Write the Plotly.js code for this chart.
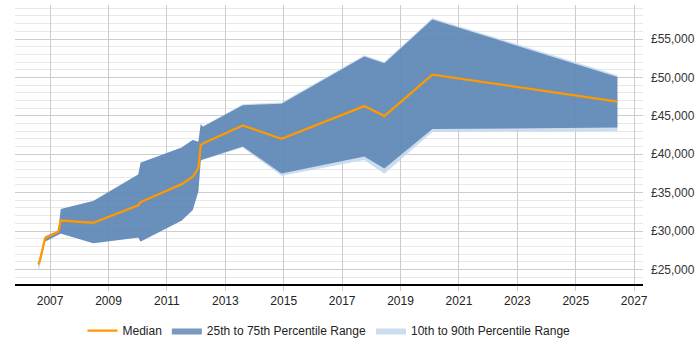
<!DOCTYPE html>
<html>
<head>
<meta charset="utf-8">
<script src="https://cdn.plot.ly/plotly-3.0.1.min.js"></script>
<style>
  html, body { margin: 0; padding: 0; background: #fff; }
  #chart { width: 700px; height: 350px; }
</style>
</head>
<body>
<div id="chart"></div>
<script>
// Salary percentiles over time (GBP)
const dates = ['2006-08-07','2006-08-25','2006-10-30','2007-04-13','2007-05-15','2008-06-25',
  '2010-01-08','2010-02-06','2011-07-05','2011-11-20','2012-01-30','2012-02-28','2012-03-25',
  '2013-08-07','2014-12-05','2017-10-05','2018-06-13','2020-02-03','2026-06-06'];

const median = [25700, 26100, 29050, 29900, 31370, 31080, 33360, 33770, 36100, 37060, 38200,
  41200, 41400, 43740, 42000, 46270, 44960, 50360, 46860];
const p75 = [25900, 26500, 29270, 30030, 32850, 33900, 37370, 38890, 40860, 41840, 41620,
  43900, 43570, 46390, 46560, 52730, 51840, 57540, 50070];
const p25 = [25450, 25800, 28630, 29470, 29680, 28420, 29140, 28630, 31370, 32720, 35170,
  39180, 39300, 40990, 37500, 39690, 38130, 43270, 43480];
const p90 = [26050, 26600, 29300, 30060, 32880, 33930, 37400, 38920, 40890, 41870, 41650,
  43930, 43600, 46520, 46720, 52900, 52000, 57750, 50280];
const p10 = [24900, 25300, 28600, 29440, 29650, 28390, 29110, 28600, 31340, 32690, 35140,
  39150, 39270, 40860, 37200, 39250, 37450, 42900, 43000];

const yTicks = [25000, 30000, 35000, 40000, 45000, 50000, 55000];

const traces = [
  { x: dates, y: p10, type: 'scatter', mode: 'lines', line: { width: 0 },
    showlegend: false, hoverinfo: 'skip' },
  { x: dates, y: p90, type: 'scatter', mode: 'lines', line: { width: 0 },
    fill: 'tonexty', fillcolor: 'rgba(190,212,235,0.8)',
    name: '10th to 90th Percentile Range', legendrank: 3 },
  { x: dates, y: p25, type: 'scatter', mode: 'lines', line: { width: 0 },
    showlegend: false, hoverinfo: 'skip' },
  { x: dates, y: p75, type: 'scatter', mode: 'lines', line: { width: 0 },
    fill: 'tonexty', fillcolor: 'rgba(62,110,165,0.7)',
    name: '25th to 75th Percentile Range', legendrank: 2 },
  { x: dates, y: median, type: 'scatter', mode: 'lines',
    line: { color: '#ff9900', width: 2.3 },
    name: 'Median', legendrank: 1 }
];

const layout = {
  width: 700, height: 350,
  margin: { l: 15, r: 57, t: 5, b: 58 },
  paper_bgcolor: '#ffffff', plot_bgcolor: '#ffffff',
  font: { family: '"Liberation Sans", Arial, sans-serif', size: 12, color: '#333333' },
  showlegend: true,
  legend: {
    orientation: 'h', x: 0.5, xanchor: 'center', y: -0.115, yanchor: 'top',
    font: { size: 12, color: '#222222' }, traceorder: 'normal', itemwidth: 30
  },
  xaxis: {
    type: 'date',
    range: ['2005-10-19', '2027-04-22'],
    tick0: '2007-01-01', dtick: 'M24', tickformat: '%Y',
    showgrid: true, gridcolor: '#cccccc', gridwidth: 1,
    ticks: 'outside', ticklen: 5, tickcolor: '#cccccc',
    showline: true, linecolor: '#000000', linewidth: 1.5,
    zeroline: false, fixedrange: true,
    tickfont: { size: 12, color: '#222222' }
  },
  yaxis: {
    side: 'right',
    range: [23100, 59430],
    tickmode: 'array', tickvals: yTicks,
    ticktext: yTicks.map(v => '£' + v.toLocaleString('en-GB')),
    showgrid: true, gridcolor: '#cccccc', gridwidth: 1,
    minor: { dtick: 1000, showgrid: true, gridcolor: '#e8e8e8', gridwidth: 1 },
    ticks: '', ticklabelstandoff: 7, showline: false, zeroline: false, fixedrange: true,
    tickfont: { size: 12, color: '#333333' }
  }
};

Plotly.newPlot('chart', traces, layout, { displayModeBar: false, staticPlot: true });
</script>
</body>
</html>
